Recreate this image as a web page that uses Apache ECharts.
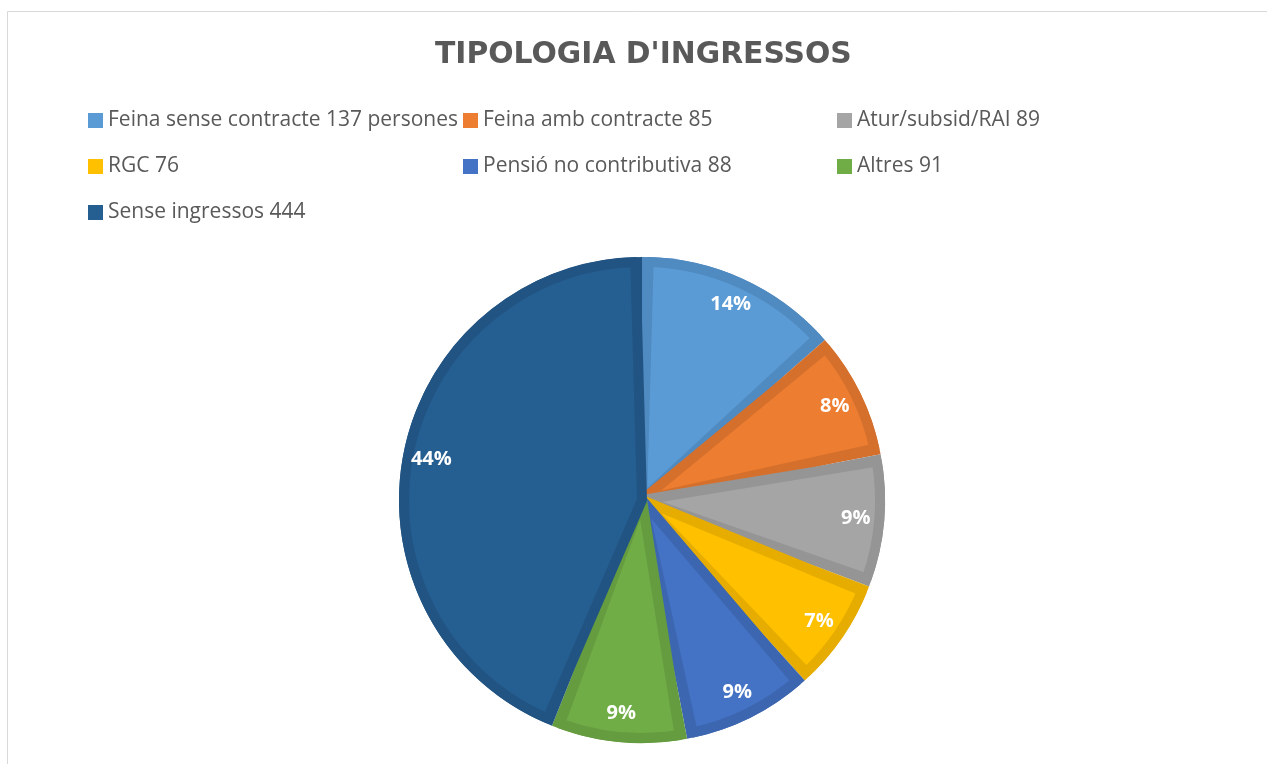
<!DOCTYPE html>
<html>
<head>
<meta charset="utf-8">
<script src="https://cdn.jsdelivr.net/npm/echarts@6/dist/echarts.min.js"></script>
<style>
html,body{margin:0;padding:0;background:#fff;}
#chart{width:1267px;height:764px;}
</style>
</head>
<body>
<div id="chart"></div>
<script>
// ---- data ----
const categories = [
  'Feina sense contracte 137 persones',
  'Feina amb contracte 85',
  'Atur/subsid/RAI 89',
  'RGC 76',
  'Pensió no contributiva 88',
  'Altres 91',
  'Sense ingressos 444'
];
const values = [137, 85, 89, 76, 88, 91, 444];
const titleText = "TIPOLOGIA D'INGRESSOS";

// ---- styles ----
const fillColors   = ['#5B9BD5', '#ED7D31', '#A5A5A5', '#FFC000', '#4472C4', '#70AD47', '#255E91'];
const borderColors = ['#4F8AC1', '#D5702C', '#959595', '#E6AD00', '#3D66B0', '#659C40', '#215483'];
const legendColumns = [[0, 3, 6], [1, 4], [2, 5]];
const legendLefts = [88, 463, 837];

const chart = echarts.init(document.getElementById('chart'), null, {renderer: 'canvas'});

const topData = categories.map((n, i) => ({
  name: n, value: values[i],
  itemStyle: {color: fillColors[i], borderColor: borderColors[i]}
}));
const baseData = categories.map((n, i) => ({
  name: n, value: values[i],
  itemStyle: {color: borderColors[i]}
}));
const labelData = categories.map((n, i) => ({name: n, value: values[i]}));

const center = [642, 500];

const legends = legendColumns.map((col, k) => ({
  orient: 'vertical',
  left: legendLefts[k],
  top: 109.5,
  padding: 0,
  itemGap: 24,
  itemWidth: 15,
  itemHeight: 15,
  icon: 'rect',
  selectedMode: false,
  itemStyle: {borderWidth: 0},
  data: col.map(i => ({name: categories[i], itemStyle: {color: fillColors[i], borderWidth: 0}})),
  textStyle: {color: '#595959', fontSize: 21, fontFamily: 'Open Sans', lineHeight: 22}
}));

chart.setOption({
  animation: false,
  backgroundColor: '#ffffff',
  title: {
    text: titleText,
    left: 435,
    top: 40,
    padding: 0,
    textStyle: {color: '#595959', fontSize: 29.8, fontWeight: 'bold', fontFamily: 'DejaVu Sans'}
  },
  graphic: [{
    type: 'rect', silent: true, z: -10,
    shape: {x: 7.5, y: 11.5, width: 1400, height: 900},
    style: {fill: 'none', stroke: '#D9D9D9', lineWidth: 1}
  }],
  legend: legends,
  series: [
    {
      type: 'pie', name: 'top', z: 3,
      center: center, radius: [0, 238],
      startAngle: 90, clockwise: true,
      padAngle: 3.2,
      label: {show: false}, labelLine: {show: false},
      itemStyle: {borderWidth: 10, borderJoin: 'round'},
      emphasis: {disabled: true},
      silent: true,
      data: topData
    },
    {
      type: 'pie', name: 'base', z: 2,
      center: center, radius: [0, 243],
      startAngle: 90, clockwise: true,
      label: {show: false}, labelLine: {show: false},
      itemStyle: {borderWidth: 0},
      emphasis: {disabled: true},
      silent: true,
      data: baseData
    },
    {
      type: 'pie', name: 'labels', z: 4,
      center: center, radius: [180, 243],
      startAngle: 90, clockwise: true,
      percentPrecision: 0,
      itemStyle: {color: 'rgba(0,0,0,0)', borderWidth: 0},
      label: {
        show: true, position: 'inside', formatter: '{d}%',
        color: '#ffffff', fontSize: 20, fontWeight: 'bold', fontFamily: 'Open Sans'
      },
      labelLine: {show: false},
      emphasis: {disabled: true},
      silent: true,
      data: labelData
    }
  ]
});
</script>
</body>
</html>
